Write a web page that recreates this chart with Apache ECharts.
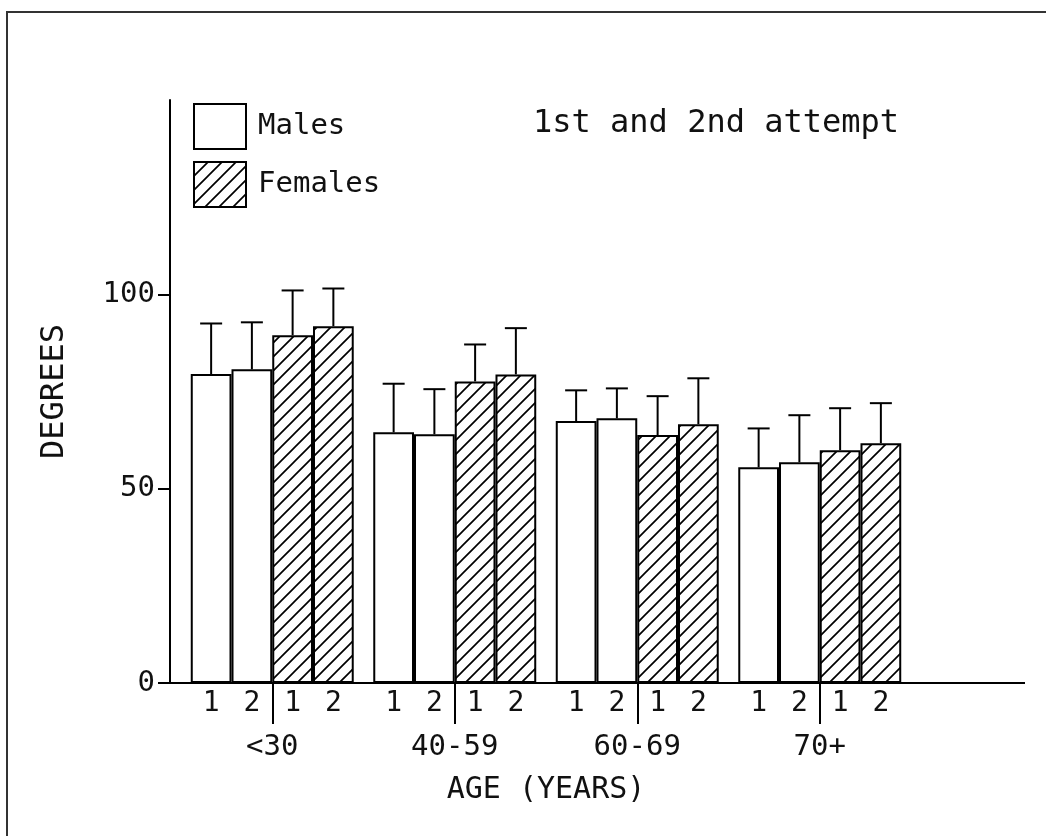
<!DOCTYPE html>
<html>
<head>
<meta charset="utf-8">
<script src="https://cdn.jsdelivr.net/npm/echarts@6/dist/echarts.min.js"></script>
<style>
html,body{margin:0;padding:0;background:#fff;}
#chart{width:1046px;height:836px;}
</style>
</head>
<body>
<div id="chart"></div>
<script>
// ---- data ----
const categories = ['<30', '40-59', '60-69', '70+'];
const male1 = [79.5, 64.5, 67.4, 55.5];
const male1Sd = [13.0, 12.5, 7.9, 10.0];
const male2 = [80.7, 64.0, 68.1, 56.8];
const male2Sd = [12.1, 11.6, 7.7, 12.1];
const female1 = [89.5, 77.6, 63.8, 59.9];
const female1Sd = [11.5, 9.5, 10.0, 10.8];
const female2 = [91.8, 79.4, 66.6, 61.7];
const female2Sd = [9.7, 11.9, 11.8, 10.3];
const attemptLabels = ['1', '2', '1', '2'];
const yTicks = [0, 50, 100];

const FONT = "'DejaVu Sans Mono', 'Liberation Mono', monospace";
const INK = '#111';
const GAP_RATIO = 0.107;

// hatch pattern
const P = 14;
const pc = document.createElement('canvas');
pc.width = P; pc.height = P;
const ctx = pc.getContext('2d');
ctx.fillStyle = '#fff'; ctx.fillRect(0, 0, P, P);
ctx.strokeStyle = '#000'; ctx.lineWidth = 1.7;
ctx.beginPath();
ctx.moveTo(-3, 3); ctx.lineTo(3, -3);
ctx.moveTo(0, P); ctx.lineTo(P, 0);
ctx.moveTo(P - 3, P + 3); ctx.lineTo(P + 3, P - 3);
ctx.stroke();
const hatch = { image: pc, repeat: 'repeat' };

const barSets = [
  { name: 'Males', values: male1, sd: male1Sd, fill: '#fff' },
  { name: 'Males', values: male2, sd: male2Sd, fill: '#fff' },
  { name: 'Females', values: female1, sd: female1Sd, fill: hatch },
  { name: 'Females', values: female2, sd: female2Sd, fill: hatch }
];

const series = [];
barSets.forEach((b, k) => {
  series.push({
    type: 'bar',
    name: b.name,
    data: b.values,
    barGap: '0%',
    barCategoryGap: (GAP_RATIO * 100) + '%',
    itemStyle: { color: b.fill, borderColor: '#000', borderWidth: 2 },
    label: {
      show: true, position: 'bottom', distance: 7,
      formatter: () => attemptLabels[k],
      fontFamily: FONT, fontSize: 28, color: INK
    },
    emphasis: { disabled: true },
    silent: true
  });
});
barSets.forEach((b, k) => {
  series.push({
    type: 'custom',
    name: 'err' + k,
    data: b.values.map((v, i) => [i, v, b.sd[i]]),
    encode: { x: 0, y: 1 },
    z: 5,
    silent: true,
    renderItem: function (params, api) {
      const c = api.value(0), m = api.value(1), s = api.value(2);
      const base = api.coord([c, m]);
      const top = api.coord([c, m + s]);
      const band = api.size([1, 0])[0];
      const bw = band * (1 - GAP_RATIO) / 4;
      const x = base[0] + (k - 1.5) * bw;
      const cap = 11;
      const st = { stroke: '#000', lineWidth: 2 };
      return {
        type: 'group',
        children: [
          { type: 'line', shape: { x1: x, y1: base[1], x2: x, y2: top[1] }, style: st },
          { type: 'line', shape: { x1: x - cap, y1: top[1], x2: x + cap, y2: top[1] }, style: st }
        ]
      };
    }
  });
});

const chart = echarts.init(document.getElementById('chart'), null, { renderer: 'canvas' });
chart.setOption({
  animation: false,
  backgroundColor: '#fff',
  title: {
    text: '1st and 2nd attempt',
    left: 533, top: 108, padding: 0,
    textStyle: { fontFamily: FONT, fontSize: 32, fontWeight: 'normal', color: INK }
  },
  legend: {
    data: ['Males', 'Females'],
    orient: 'vertical',
    left: 193, top: 103, padding: 0,
    itemWidth: 52, itemHeight: 45, itemGap: 11,
    icon: 'rect',
    selectedMode: false,
    textStyle: { fontFamily: FONT, fontSize: 29, color: INK, padding: [3, 0, 0, 7] }
  },
  grid: { left: 181, top: 100, width: 730, bottom: 153, containLabel: false },
  xAxis: {
    type: 'category',
    data: categories,
    name: 'AGE (YEARS)',
    nameLocation: 'middle',
    nameGap: 92,
    nameTextStyle: { fontFamily: FONT, fontSize: 30, color: INK },
    axisLine: { show: true, lineStyle: { color: '#000', width: 2 } },
    axisTick: { show: true, alignWithLabel: true, length: 41, lineStyle: { color: '#000', width: 2 } },
    axisLabel: { margin: 50, fontFamily: FONT, fontSize: 29, color: INK },
    splitLine: { show: false }
  },
  yAxis: {
    type: 'value',
    min: 0, max: 150, interval: 50,
    offset: 11,
    name: 'DEGREES',
    nameLocation: 'middle',
    nameRotate: 90,
    nameGap: 99,
    nameTextStyle: { fontFamily: FONT, fontSize: 32, color: INK },
    axisLine: { show: true, lineStyle: { color: '#000', width: 2 } },
    axisTick: { show: true, length: 12, customValues: yTicks, lineStyle: { color: '#000', width: 2 } },
    axisLabel: { margin: 15, customValues: yTicks, fontFamily: FONT, fontSize: 29, color: INK },
    splitLine: { show: false }
  },
  graphic: [
    { type: 'line', shape: { x1: 170, y1: 683, x2: 1025, y2: 683 }, style: { stroke: '#000', lineWidth: 2 }, z: 100 },
    { type: 'line', shape: { x1: 6, y1: 12, x2: 1046, y2: 12 }, style: { stroke: '#333', lineWidth: 2 } },
    { type: 'line', shape: { x1: 7, y1: 12, x2: 7, y2: 836 }, style: { stroke: '#333', lineWidth: 2 } }
  ],
  series: series
});
</script>
</body>
</html>
